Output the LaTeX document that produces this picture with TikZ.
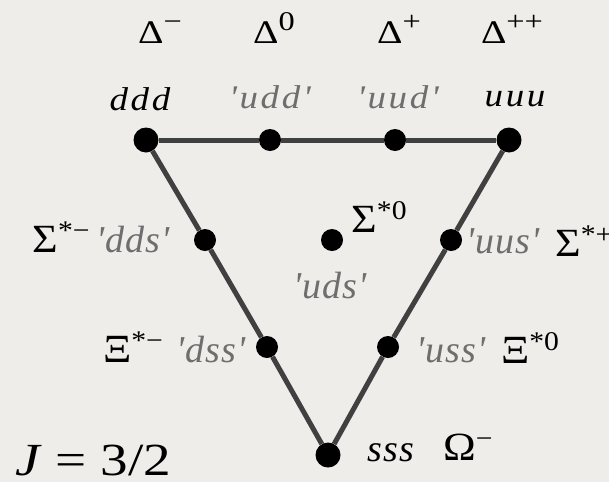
\documentclass[tikz,border=0pt]{standalone}
\usepackage{fontspec}
\setmainfont{Liberation Serif}
\newfontfamily\qfont{Liberation Serif}[LetterSpace=3, Ligatures=TeXOff]
\newfontfamily\qtfont{Liberation Serif}[LetterSpace=8, FakeStretch=1.12, Ligatures=TeXOff]
\newfontfamily\dfont{Liberation Serif}[FakeStretch=1.2]
\newfontfamily\gfont{Liberation Serif}[FakeStretch=1.1]
\definecolor{bg}{RGB}{238,237,234}
\definecolor{edgecol}{RGB}{64,64,64}
\definecolor{quarkgray}{RGB}{110,110,110}
\newcommand\hs[1]{\raisebox{13pt}{\fontsize{27}{27}\selectfont #1}}
\tikzset{
  dot/.style={circle, fill=black, inner sep=0pt, minimum size=22pt},
  bigdot/.style={dot, minimum size=25pt},
  hadron/.style={inner sep=0pt, anchor=base, font=\gfont\fontsize{40}{44}\selectfont},
  delta/.style={hadron, font=\dfont\fontsize{33}{37}\selectfont},
  quark/.style={inner sep=0pt, anchor=base, font=\qfont\itshape\fontsize{38}{42}\selectfont},
  exotic/.style={quark, text=quarkgray},
  topquark/.style={quark, font=\qtfont\itshape\fontsize{33}{37}\selectfont},
  topexotic/.style={topquark, text=quarkgray},
  edgeline/.style={draw=edgecol, line width=5pt},
}
\begin{document}
\begin{tikzpicture}[x=1pt,y=-1pt]
\fill[bg] (0,0) rectangle (609,482);
\useasboundingbox (0,0) rectangle (609,482);
% dots
\node[bigdot] (ddd) at (146,140) {};
\node[dot] (udd) at (270,140) {};
\node[dot] (uud) at (395,140) {};
\node[bigdot] (uuu) at (509,140) {};
\node[dot] (dds) at (205,240) {};
\node[dot] (uds) at (332,240) {};
\node[dot] (uus) at (451,240) {};
\node[dot] (dss) at (267,347) {};
\node[dot] (uss) at (388,347) {};
\node[bigdot] (sss) at (328,455) {};
% connectors
\draw[edgeline] (ddd) -- (udd) -- (uud) -- (uuu);
\draw[edgeline] (ddd) -- (dds) -- (dss) -- (sss);
\draw[edgeline] (uuu) -- (uus) -- (uss) -- (sss);
% hadron labels
\node[delta] (dm) at (160,43) {Δ\hs{−}};
\node[delta] (d0) at (274,43) {Δ\hs{0}};
\node[delta] (dp) at (399,43) {Δ\hs{+}};
\node[delta] (dpp) at (512,43) {Δ\hs{++}};
\node[hadron] (sm) at (61,252) {Σ\hs{*−}};
\node[hadron] (s0) at (379,232) {Σ\hs{*0}};
\node[hadron, anchor=base west] (sp) at (555,256) {Σ\hs{*+}};
\node[hadron] (xm) at (133,362) {Ξ\hs{*−}};
\node[hadron] (x0) at (530,363) {Ξ\hs{*0}};
\node[hadron] (om) at (468,460) {Ω\hs{−}};
% quark labels
\node[topquark] (lddd) at (140,110) {ddd};
\node[topexotic] (ludd) at (270,108) {'udd'};
\node[topexotic] (luud) at (398,108) {'uud'};
\node[topquark] (luuu) at (515,106) {uuu};
\node[exotic] (ldds) at (133,252) {'dds'};
\node[exotic] (luds) at (330,298) {'uds'};
\node[exotic] (luus) at (503,253) {'uus'};
\node[exotic] (ldss) at (211,362) {'dss'};
\node[exotic] (luss) at (451,362) {'uss'};
\node[quark] (lsss) at (391,461) {sss};
% spin label
\node[inner sep=0pt, anchor=base west, font=\dfont\fontsize{46}{50}\selectfont] (spin) at (15,475) {\textit{J}\hspace{0.3em}=\hspace{0.3em}3/2};
\end{tikzpicture}
\end{document}
